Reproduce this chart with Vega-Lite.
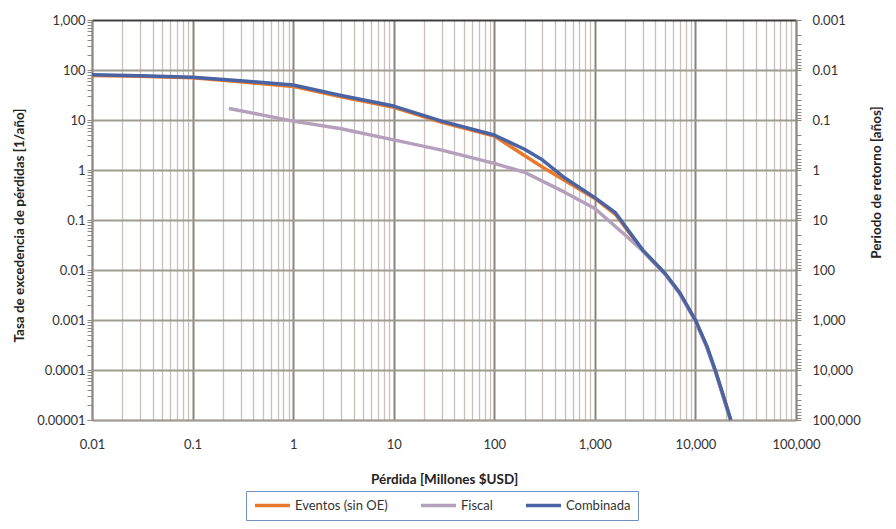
{
  "$schema": "https://vega.github.io/schema/vega-lite/v6.json",
  "width": 704,
  "height": 400,
  "autosize": {"type": "none"},
  "padding": {"left": 92, "top": 20, "right": 100, "bottom": 109},
  "background": "white",
  "config": {
    "view": {"stroke": null},
    "font": "Lato",
    "axis": {"labelFont": "Lato", "titleFont": "Lato", "labelFontSize": 13, "titleFontSize": 13.5, "labelColor": "#333333", "titleColor": "#222222", "titleFontWeight": "bold"},
    "legend": {"labelFont": "Lato"}
  },
  "datasets": {
    "curvas": [
      {"serie": "Eventos (sin OE)", "perdida": 0.01, "tasa": 78},
      {"serie": "Eventos (sin OE)", "perdida": 0.03, "tasa": 75},
      {"serie": "Eventos (sin OE)", "perdida": 0.1, "tasa": 70},
      {"serie": "Eventos (sin OE)", "perdida": 0.3, "tasa": 58},
      {"serie": "Eventos (sin OE)", "perdida": 1, "tasa": 47},
      {"serie": "Eventos (sin OE)", "perdida": 3, "tasa": 29},
      {"serie": "Eventos (sin OE)", "perdida": 10, "tasa": 18},
      {"serie": "Eventos (sin OE)", "perdida": 30, "tasa": 9},
      {"serie": "Eventos (sin OE)", "perdida": 100, "tasa": 4.8},
      {"serie": "Eventos (sin OE)", "perdida": 300, "tasa": 1.15},
      {"serie": "Eventos (sin OE)", "perdida": 1000, "tasa": 0.27},
      {"serie": "Eventos (sin OE)", "perdida": 1600, "tasa": 0.13},
      {"serie": "Eventos (sin OE)", "perdida": 3000, "tasa": 0.024},
      {"serie": "Eventos (sin OE)", "perdida": 5000, "tasa": 0.0083},
      {"serie": "Eventos (sin OE)", "perdida": 7000, "tasa": 0.0034},
      {"serie": "Eventos (sin OE)", "perdida": 10000, "tasa": 0.00098},
      {"serie": "Eventos (sin OE)", "perdida": 13000, "tasa": 0.00029},
      {"serie": "Eventos (sin OE)", "perdida": 16000, "tasa": 0.000088},
      {"serie": "Eventos (sin OE)", "perdida": 19000, "tasa": 0.000029},
      {"serie": "Eventos (sin OE)", "perdida": 22400, "tasa": 0.00001},
      {"serie": "Fiscal", "perdida": 0.23, "tasa": 17},
      {"serie": "Fiscal", "perdida": 0.5, "tasa": 12.5},
      {"serie": "Fiscal", "perdida": 1, "tasa": 9.5},
      {"serie": "Fiscal", "perdida": 3, "tasa": 6.7},
      {"serie": "Fiscal", "perdida": 10, "tasa": 4.0},
      {"serie": "Fiscal", "perdida": 30, "tasa": 2.5},
      {"serie": "Fiscal", "perdida": 100, "tasa": 1.36},
      {"serie": "Fiscal", "perdida": 200, "tasa": 0.9},
      {"serie": "Fiscal", "perdida": 500, "tasa": 0.36},
      {"serie": "Fiscal", "perdida": 1000, "tasa": 0.17},
      {"serie": "Fiscal", "perdida": 2000, "tasa": 0.05},
      {"serie": "Fiscal", "perdida": 3000, "tasa": 0.024},
      {"serie": "Fiscal", "perdida": 5000, "tasa": 0.0082},
      {"serie": "Fiscal", "perdida": 7000, "tasa": 0.0033},
      {"serie": "Fiscal", "perdida": 10000, "tasa": 0.00095},
      {"serie": "Fiscal", "perdida": 13000, "tasa": 0.00028},
      {"serie": "Fiscal", "perdida": 16000, "tasa": 0.000085},
      {"serie": "Fiscal", "perdida": 19000, "tasa": 0.000028},
      {"serie": "Fiscal", "perdida": 22300, "tasa": 0.00001},
      {"serie": "Combinada", "perdida": 0.01, "tasa": 80},
      {"serie": "Combinada", "perdida": 0.03, "tasa": 77},
      {"serie": "Combinada", "perdida": 0.1, "tasa": 72},
      {"serie": "Combinada", "perdida": 0.3, "tasa": 61},
      {"serie": "Combinada", "perdida": 1, "tasa": 50},
      {"serie": "Combinada", "perdida": 3, "tasa": 31},
      {"serie": "Combinada", "perdida": 10, "tasa": 19},
      {"serie": "Combinada", "perdida": 30, "tasa": 9.5},
      {"serie": "Combinada", "perdida": 100, "tasa": 5.0},
      {"serie": "Combinada", "perdida": 200, "tasa": 2.6},
      {"serie": "Combinada", "perdida": 300, "tasa": 1.6},
      {"serie": "Combinada", "perdida": 500, "tasa": 0.7},
      {"serie": "Combinada", "perdida": 1000, "tasa": 0.28},
      {"serie": "Combinada", "perdida": 1600, "tasa": 0.14},
      {"serie": "Combinada", "perdida": 3000, "tasa": 0.025},
      {"serie": "Combinada", "perdida": 5000, "tasa": 0.0085},
      {"serie": "Combinada", "perdida": 7000, "tasa": 0.0035},
      {"serie": "Combinada", "perdida": 10000, "tasa": 0.001},
      {"serie": "Combinada", "perdida": 13000, "tasa": 0.0003},
      {"serie": "Combinada", "perdida": 16000, "tasa": 0.00009},
      {"serie": "Combinada", "perdida": 19000, "tasa": 0.00003},
      {"serie": "Combinada", "perdida": 22500, "tasa": 0.00001}
    ],
    "periodo": [{"T": 0.001}, {"T": 100000}]
  },
  "layer": [
    {
      "layer": [
        {
          "data": {"name": "curvas"},
          "transform": [{"filter": "datum.serie === 'Eventos (sin OE)'"}],
          "mark": {"type": "line", "strokeWidth": 3.5, "strokeJoin": "round"},
          "encoding": {}
        },
        {
          "data": {"name": "curvas"},
          "transform": [{"filter": "datum.serie === 'Fiscal'"}],
          "mark": {"type": "line", "strokeWidth": 3.5, "strokeJoin": "round"},
          "encoding": {}
        },
        {
          "data": {"name": "curvas"},
          "transform": [{"filter": "datum.serie === 'Combinada'"}],
          "mark": {"type": "line", "strokeWidth": 3.5, "strokeJoin": "round"},
          "encoding": {}
        }
      ],
      "encoding": {
        "x": {
          "field": "perdida", "type": "quantitative",
          "scale": {"type": "log", "domain": [0.01, 100000], "nice": false},
          "axis": {
            "title": "Pérdida [Millones $USD]",
            "tickCount": 40, "ticks": false, "labelOverlap": false, "labelFlush": false,
            "labelPadding": 18,
            "titleX": 352, "titleY": 59, "titleBaseline": "middle",
            "domainColor": "#A09C92", "domainWidth": 1.5,
            "labelExpr": "abs(log(datum.value)/LN10 - round(log(datum.value)/LN10)) < 0.001 ? format(datum.value, ',~f') : ''",
            "grid": true,
            "gridColor": {"condition": {"test": "abs(log(datum.value)/LN10 - round(log(datum.value)/LN10)) < 0.001", "value": "#8A847E"}, "value": "#C9BFBB"},
            "gridWidth": {"condition": {"test": "abs(log(datum.value)/LN10 - round(log(datum.value)/LN10)) < 0.001", "value": 2}, "value": 1.3}
          }
        },
        "y": {
          "field": "tasa", "type": "quantitative",
          "scale": {"type": "log", "domain": [0.00001, 1000], "nice": false},
          "axis": {
            "title": "Tasa de excedencia de pérdidas [1/año]",
            "tickCount": 40, "labelOverlap": false, "labelFlush": false,
            "tickSize": 5, "tickColor": "#8E8882", "tickWidth": 1,
            "labelPadding": 2,
            "titleX": -73, "titleY": 205, "titleBaseline": "middle",
            "domainColor": "#8E8882", "domainWidth": 1.5,
            "labelExpr": "abs(log(datum.value)/LN10 - round(log(datum.value)/LN10)) < 0.001 ? format(datum.value, ',~f') : ''",
            "grid": true,
            "gridOpacity": {"condition": {"test": "abs(log(datum.value)/LN10 - round(log(datum.value)/LN10)) < 0.001", "value": 1}, "value": 0},
            "gridColor": {"condition": {"test": "datum.value > 999", "value": "#404040"}, "value": "#A09C92"},
            "gridWidth": {"condition": {"test": "datum.value > 999", "value": 2.2}, "value": 1.8}
          }
        },
        "color": {
          "field": "serie", "type": "nominal",
          "scale": {"domain": ["Eventos (sin OE)", "Fiscal", "Combinada"], "range": ["#E97A2C", "#B5A0BC", "#4A64A3"]},
          "legend": {
            "title": null, "orient": "none", "direction": "horizontal",
            "legendX": 154, "legendY": 471,
            "strokeColor": "#7391C4", "fillColor": "white", "padding": 7,
            "symbolType": "stroke", "symbolSize": 1225, "symbolStrokeWidth": 3.5,
            "clipHeight": 15,
            "labelFontSize": 13, "labelColor": "#333333", "labelOffset": 3, "columnPadding": 31
          }
        }
      }
    },
    {
      "data": {"name": "periodo"},
      "mark": {"type": "point", "opacity": 0},
      "encoding": {
        "y": {
          "field": "T", "type": "quantitative",
          "scale": {"type": "log", "domain": [0.001, 100000], "reverse": true, "nice": false},
          "axis": {
            "orient": "right", "title": "Periodo de retorno [años]", "titleAngle": 270,
            "titleX": 80, "titleY": 162, "titleBaseline": "middle",
            "tickCount": 40, "labelOverlap": false, "labelFlush": false, "grid": false,
            "tickSize": 5, "tickColor": "#8E8882", "tickWidth": 1,
            "labelPadding": 11,
            "domainColor": "#8E8882", "domainWidth": 1.5,
            "labelExpr": "abs(log(datum.value)/LN10 - round(log(datum.value)/LN10)) < 0.001 ? format(datum.value, ',~f') : ''"
          }
        }
      }
    }
  ],
  "resolve": {"scale": {"y": "independent"}}
}
